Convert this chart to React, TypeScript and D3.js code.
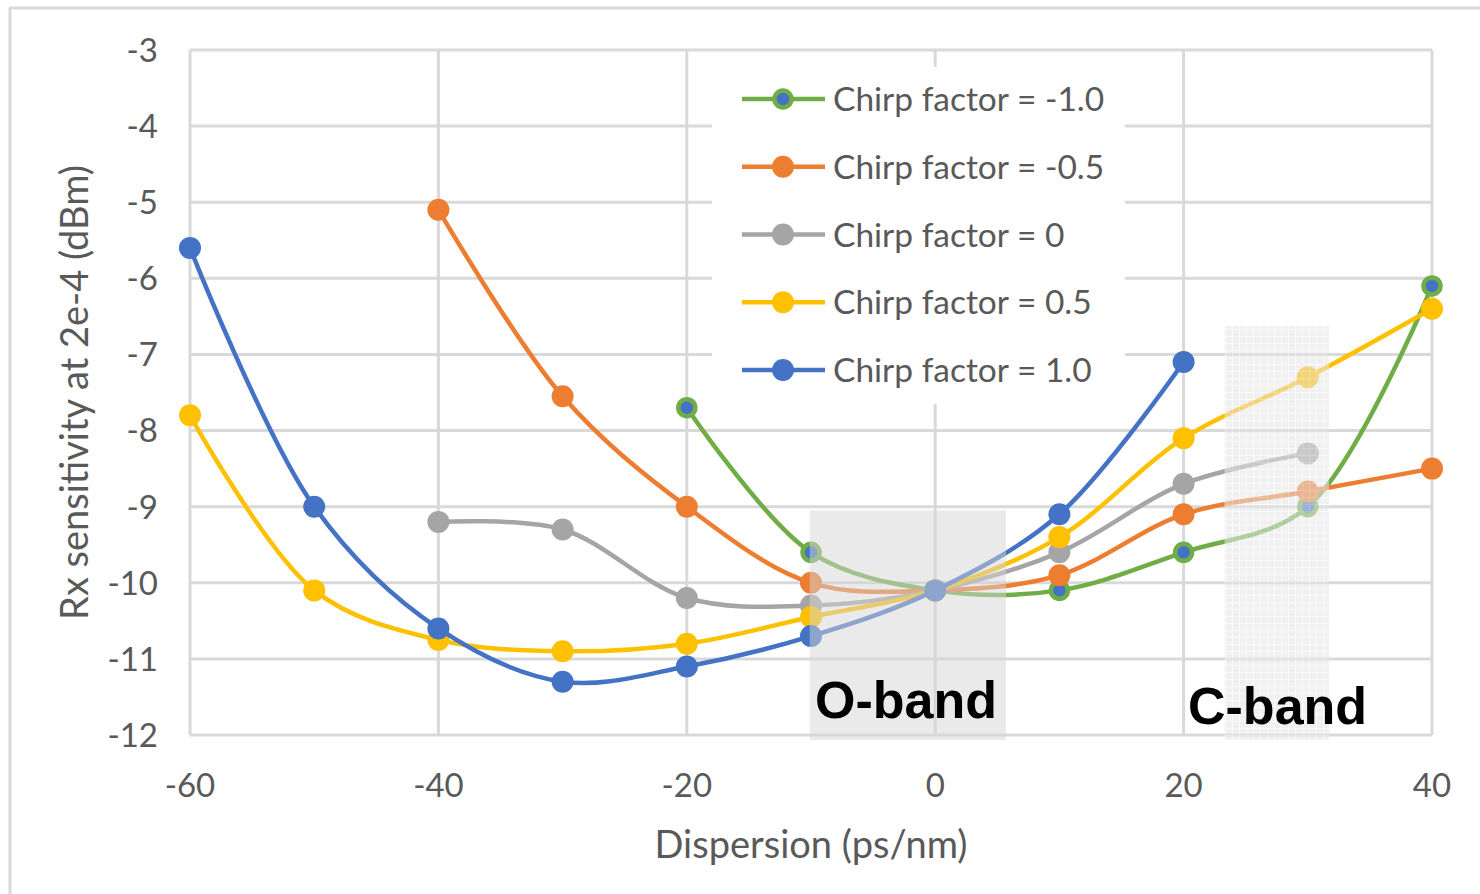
import React from 'react';
import * as d3 from 'd3';

// dispersion values (ps/nm) shared by every series
const dispersion = [-60, -50, -40, -30, -20, -10, 0, 10, 20, 30, 40];

// Rx sensitivity at 2e-4 (dBm), null = not measured
const chirpM10 = [null, null, null, null, -7.7, -9.6, -10.1, -10.1, -9.6, -9.0, -6.1];
const chirpM05 = [null, null, -5.1, -7.55, -9.0, -10.0, -10.1, -9.9, -9.1, -8.8, -8.5];
const chirp00 = [null, null, -9.2, -9.3, -10.2, -10.3, -10.1, -9.6, -8.7, -8.3, null];
const chirpP05 = [-7.8, -10.1, -10.75, -10.9, -10.8, -10.45, -10.1, -9.4, -8.1, -7.3, -6.4];
const chirpP10 = [-5.6, -9.0, -10.6, -11.3, -11.1, -10.7, -10.1, -9.1, -7.1, null, null];

const seriesLabels = [
  'Chirp factor = -1.0',
  'Chirp factor = -0.5',
  'Chirp factor = 0',
  'Chirp factor = 0.5',
  'Chirp factor = 1.0',
];
const seriesValues = [chirpM10, chirpM05, chirp00, chirpP05, chirpP10];
const seriesColors = ['#70ad47', '#ed7d31', '#a5a5a5', '#ffc000', '#4472c4'];

const xTicks = [-60, -40, -20, 0, 20, 40];
const yTicks = [-3, -4, -5, -6, -7, -8, -9, -10, -11, -12];

// shaded band annotations
const bandLabels = ['O-band', 'C-band'];
const bandX0 = [-10.1, 23.3];
const bandX1 = [5.7, 31.7];
const bandTop = [-9.05, -6.63];

const FONT = 'Lato, "Open Sans", sans-serif';
const TEXT = '#595959';
const GRID = '#d9d9d9';

export default function App() {
  const W = 1480;
  const H = 894;
  const x = d3.scaleLinear().domain([-60, 40]).range([190, 1432]);
  const y = d3.scaleLinear().domain([-12, -3]).range([735, 50]);

  const line = d3
    .line<[number, number | null]>()
    .defined(d => d[1] !== null)
    .x(d => x(d[0]))
    .y(d => y(d[1] as number))
    .curve(d3.curveCatmullRom.alpha(0.5));

  const legendX = 742;
  const legendY0 = 99;
  const legendStep = 67.75;

  const marker = (i: number, cx: number, cy: number, key: any) => (
    <circle
      key={key}
      cx={cx}
      cy={cy}
      r={i === 0 ? 8.5 : 11}
      fill={i === 0 ? '#4472c4' : seriesColors[i]}
      stroke={i === 0 ? seriesColors[0] : 'none'}
      strokeWidth={i === 0 ? 4.5 : 0}
    />
  );

  return (
    <svg width={W} height={H} style={{ position: 'absolute', left: 0, top: 0, background: '#fff' }}>
      <defs>
        <pattern id="cgrid" width="7" height="7" patternUnits="userSpaceOnUse">
          <rect width="7" height="7" fill="#e4e4e4" />
          <path d="M0 0.5H7M0.5 0V7" stroke="#f6f6f6" strokeWidth="1" />
        </pattern>
      </defs>

      {/* chart frame */}
      <line x1={9} x2={W} y1={8} y2={8} stroke={GRID} strokeWidth={3} />
      <line x1={10} x2={10} y1={8} y2={H} stroke={GRID} strokeWidth={3} />

      {/* grid */}
      {yTicks.map(t => (
        <line key={'gy' + t} x1={x(-60)} x2={x(40)} y1={y(t)} y2={y(t)} stroke={GRID} strokeWidth={3} />
      ))}
      {xTicks.map(t => (
        <line key={'gx' + t} x1={x(t)} x2={x(t)} y1={y(-3)} y2={y(-12)} stroke={GRID} strokeWidth={3} />
      ))}

      {/* tick labels */}
      {yTicks.map(t => (
        <text key={'ty' + t} x={158} y={y(t)} dy="0.36em" textAnchor="end" fontFamily={FONT} fontSize={33} fill={TEXT}>
          {t}
        </text>
      ))}
      {xTicks.map(t => (
        <text key={'tx' + t} x={x(t)} y={797} textAnchor="middle" fontFamily={FONT} fontSize={33} fill={TEXT}>
          {t}
        </text>
      ))}

      {/* axis titles */}
      <text x={(x(-60) + x(40)) / 2} y={858} textAnchor="middle" fontFamily={FONT} fontSize={38} fill={TEXT}>
        Dispersion (ps/nm)
      </text>
      <text
        transform={`translate(88,${(y(-3) + y(-12)) / 2}) rotate(-90)`}
        textAnchor="middle"
        fontFamily={FONT}
        fontSize={38}
        fill={TEXT}
      >
        Rx sensitivity at 2e-4 (dBm)
      </text>

      {/* series */}
      {seriesValues.map((vals, i) => {
        const pts = dispersion.map((d, j) => [d, vals[j]] as [number, number | null]);
        return (
          <g key={'s' + i}>
            <path d={line(pts) || ''} fill="none" stroke={seriesColors[i]} strokeWidth={4.5} />
            {pts.filter(p => p[1] !== null).map(p => marker(i, x(p[0]), y(p[1] as number), p[0]))}
          </g>
        );
      })}

      {/* band shading */}
      {bandLabels.map((b, i) => (
        <rect
          key={'band' + b}
          x={x(bandX0[i])}
          y={y(bandTop[i])}
          width={x(bandX1[i]) - x(bandX0[i])}
          height={740 - y(bandTop[i])}
          fill={i === 0 ? '#d6d6d6' : 'url(#cgrid)'}
          opacity={i === 0 ? 0.5 : 0.55}
        />
      ))}
      <text x={815} y={718} fontFamily="Arial, 'Liberation Sans', sans-serif" fontWeight="bold" fontSize={52} fill="#000">
        {bandLabels[0]}
      </text>
      <text x={1188} y={724} fontFamily="Arial, 'Liberation Sans', sans-serif" fontWeight="bold" fontSize={52} fill="#000">
        {bandLabels[1]}
      </text>

      {/* legend */}
      <rect x={712} y={67} width={413} height={337} fill="#fff" />
      {seriesLabels.map((lab, i) => {
        const ly = legendY0 + i * legendStep;
        return (
          <g key={'lg' + i}>
            <line x1={legendX} x2={legendX + 83} y1={ly} y2={ly} stroke={seriesColors[i]} strokeWidth={4.5} />
            {marker(i, legendX + 41, ly, 'm')}
            <text x={legendX + 91} y={ly} dy="0.36em" fontFamily={FONT} fontSize={33.5} fill={TEXT}>
              {lab}
            </text>
          </g>
        );
      })}
    </svg>
  );
}
